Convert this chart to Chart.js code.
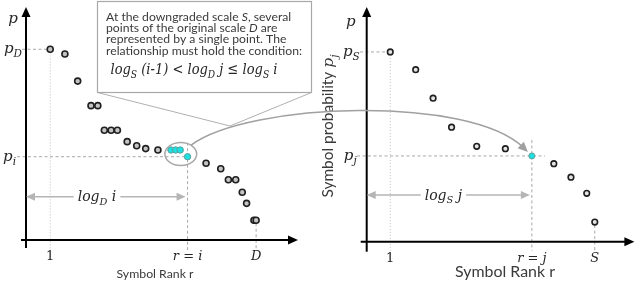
<!DOCTYPE html>
<html><head><meta charset="utf-8">
<script src="https://cdn.jsdelivr.net/npm/chart.js@4.4.1/dist/chart.umd.min.js"></script>
<style>
html,body{margin:0;padding:0;background:#fff;overflow:hidden}
#wrap{position:relative;width:640px;height:284px;background:#fff}
#wrap canvas{position:absolute;top:0}
</style></head><body>
<div id="wrap">
<canvas id="cLeft" width="320" height="284" style="left:0px;width:320px;height:284px"></canvas>
<canvas id="cRight" width="320" height="284" style="left:320px;width:320px;height:284px"></canvas>
<canvas id="cOver" width="640" height="284" style="left:0px;width:640px;height:284px;pointer-events:none"></canvas>
</div>
<script>
// ---------- data (axis units 0..100) ----------
const leftRanks  = [8.9,14.3,19.0,23.9,26.4,28.8,31.3,33.6,37.2,40.7,44.0,48.5,66.2,71.6,74.4,77.1,79.5,81.1,83.8,84.6];
const leftProbs  = [82.2,80.2,68.5,57.9,57.9,47.3,47.3,47.3,42.4,40.6,39.4,38.8,33.1,30.7,26.0,26.0,20.6,15.8,8.5,8.5];
const groupRanks = [53.3,55.0,56.7,59.4];
const groupProbs = [38.8,38.8,38.8,35.9];
const rightRanks = [8.8,18.3,24.8,31.7,41.1,51.8,69.9,76.3,82.2,85.2];
const rightProbs = [81.2,73.6,61.4,49.0,40.8,39.8,33.4,27.6,20.7,8.4];
const mappedRanks = [61.7];
const mappedProbs = [36.7];
const leftTickValues  = [8.9, 59.4, 84.6];
const leftTickLabels  = ['1', 'r = i', 'D'];
const rightTickValues = [8.8, 61.7, 85.2];
const rightTickLabels = ['1', 'r = j', 'S'];

// ---------- helpers ----------
const SERIF = '"DejaVu Serif", "Liberation Serif", serif';
const SANS = 'Lato, "Open Sans", sans-serif';
const INK = '#262626';
const TXT = '#3a3a3a';
const GUIDE = '#a8a8a8';
const DASH = [3, 2.5];
const DOT = [1.2, 1.8];

function runFont(r, size){
  const sz = r.sub ? size*0.7 : size;
  return (r.it ? 'italic ' : '') + sz.toFixed(2) + 'px ' + (r.sans ? SANS : SERIF);
}
function measureRuns(ctx, runs, size){
  let w = 0;
  for (const r of runs){ ctx.font = runFont(r, size); w += ctx.measureText(r.t).width; }
  return w;
}
function drawRuns(ctx, runs, x, base, size, align, color, hs){
  hs = hs || 1;
  const w = measureRuns(ctx, runs, size) * hs;
  let cx = align === 'center' ? x - w/2 : (align === 'right' ? x - w : x);
  ctx.save();
  ctx.translate(cx, base); ctx.scale(hs, 1);
  ctx.textBaseline = 'alphabetic'; ctx.textAlign = 'left'; ctx.fillStyle = color;
  let px = 0;
  for (const r of runs){
    ctx.font = runFont(r, size);
    ctx.fillText(r.t, px, r.sub ? size*0.27 : 0);
    px += ctx.measureText(r.t).width;
  }
  ctx.restore();
  return w;
}
function fitSize(ctx, runs, base, target){ return base * target / measureRuns(ctx, runs, base); }
function line(ctx, x1, y1, x2, y2, dash, color, lw){
  ctx.save(); ctx.setLineDash(dash || []); ctx.strokeStyle = color; ctx.lineWidth = lw || 1;
  ctx.beginPath(); ctx.moveTo(x1, y1); ctx.lineTo(x2, y2); ctx.stroke(); ctx.restore();
}
function arrowHead(ctx, x, y, dx, dy, len, half, color){
  ctx.save(); ctx.fillStyle = color; ctx.beginPath();
  ctx.moveTo(x, y);
  ctx.lineTo(x - dx*len - dy*half, y - dy*len + dx*half);
  ctx.lineTo(x - dx*len + dy*half, y - dy*len - dx*half);
  ctx.closePath(); ctx.fill(); ctx.restore();
}
function logArrow(ctx, x1, x2, yy, runs, frac, size){
  const w = measureRuns(ctx, runs, size);
  const tc = x1 + (x2 - x1)*frac;
  const col = '#b5b5b5';
  line(ctx, x1 + 6, yy, tc - w/2 - 4, yy, [], col, 1.5);
  line(ctx, tc + w/2 + 4, yy, x2 - 6, yy, [], col, 1.5);
  arrowHead(ctx, x1, yy, -1, 0, 9, 4, col);
  arrowHead(ctx, x2, yy, 1, 0, 9, 4, col);
  drawRuns(ctx, runs, tc, yy + 4.5, size, 'center', INK);
}
const M = t => ({t, it:true});
const MS = t => ({t, it:true, sub:true});
const S = t => ({t, sans:true});
const SI = t => ({t, sans:true, it:true});

function makeChart(id, cfg){
  const guidePlugin = {
    id: 'guides',
    beforeDatasetsDraw(chart){
      const {ctx, chartArea:a, scales:{x, y}} = chart;
      cfg.drawGuides(ctx, x, y, a);
      line(ctx, a.left, a.bottom + cfg.yBelow, a.left, a.top + 8, [], '#000', 2);
      arrowHead(ctx, a.left, a.top - 1, 0, -1, 10, 4.5, '#000');
      line(ctx, a.left - cfg.xBefore, a.bottom, a.right - 8, a.bottom, [], '#000', 2);
      arrowHead(ctx, a.right, a.bottom, 1, 0, 10, 4.5, '#000');
    },
    afterDraw(chart){
      cfg.drawLabels(chart.ctx, chart.scales.x, chart.scales.y, chart.chartArea);
    }
  };
  return new Chart(document.getElementById(id), {
    type: 'scatter',
    data: { datasets: cfg.datasets },
    options: {
      responsive: false, animation: false, events: [],
      layout: { padding: cfg.padding },
      plugins: { legend: { display: false }, tooltip: { enabled: false } },
      scales: {
        x: {
          type: 'linear', min: 0, max: 100, display: true,
          grid: { display: false, drawTicks: false }, border: { display: false },
          afterBuildTicks: s => { s.ticks = cfg.tickValues.map(v => ({ value: v })); },
          ticks: {
            autoSkip: false, maxRotation: 0, padding: 9, color: INK,
            callback: (v, i) => cfg.tickLabels[i],
            font: c => ({ family: SERIF, size: 13, style: c.index === 0 ? 'normal' : 'italic', lineHeight: 1.2 })
          }
        },
        y: { type: 'linear', min: 0, max: 100, display: false }
      }
    },
    plugins: [guidePlugin]
  });
}

// ---------- left chart: original scale D ----------
const leftChart = makeChart('cLeft', {
  padding: { left: 26, right: 22, top: 8, bottom: 10.4 },
  yBelow: 8, xBefore: 5,
  tickValues: leftTickValues, tickLabels: leftTickLabels,
  datasets: [
    { label: 'Merged points', data: groupRanks.map((r, i) => ({ x: r, y: groupProbs[i] })),
      pointRadius: 3.2, pointBorderWidth: 1, pointBackgroundColor: '#1fe0e0', pointBorderColor: '#5f9e9e' },
    { label: 'Original scale D', data: leftRanks.map((r, i) => ({ x: r, y: leftProbs[i] })),
      pointRadius: 3, pointBorderWidth: 1.6, pointBackgroundColor: '#c4c4c4', pointBorderColor: '#1f1f1f' }
  ],
  drawGuides(ctx, x, y, a){
    const x0 = x.getPixelForValue(leftRanks[0]), y0 = y.getPixelForValue(leftProbs[0]);
    line(ctx, a.left - 4, y0, x0 - 3, y0, DASH, GUIDE, 1);
    line(ctx, x0, y0 + 3, x0, a.bottom + 10, DOT, '#c8c8c8', 1);
    const xi = x.getPixelForValue(groupRanks[3]), yi = y.getPixelForValue(groupProbs[3]);
    line(ctx, a.left - 9, yi, xi, yi, DASH, GUIDE, 1);
    line(ctx, xi, yi - 14, xi, a.bottom + 10, DASH, GUIDE, 1);
    const n = leftRanks.length - 1;
    const xl = x.getPixelForValue(leftRanks[n]), yl = y.getPixelForValue(leftProbs[n]);
    line(ctx, xl, yl + 3, xl, a.bottom + 10, DASH, GUIDE, 1);
  },
  drawLabels(ctx, x, y, a){
    drawRuns(ctx, [M('p')], 13, a.top + 15, 15, 'center', INK);
    drawRuns(ctx, [M('p'), MS('D')], a.left - 4, y.getPixelForValue(leftProbs[0]) + 4, 15, 'right', INK);
    drawRuns(ctx, [M('p'), MS('i')], a.left - 10, y.getPixelForValue(groupProbs[3]) + 4, 15, 'right', INK);
    const xi = x.getPixelForValue(groupRanks[3]);
    logArrow(ctx, a.left, xi - 2, a.bottom - 43.3, [M('log'), MS('D'), M(' i')], 0.445, 14);
    const runs = [S('Symbol Rank r')];
    drawRuns(ctx, runs, 155, 278, fitSize(ctx, runs, 11, 77), 'center', TXT);
  }
});

// ---------- right chart: downgraded scale S ----------
const rightChart = makeChart('cRight', {
  padding: { left: 46.7, right: 5, top: 8, bottom: 8.7 },
  yBelow: 10, xBefore: 6,
  tickValues: rightTickValues, tickLabels: rightTickLabels,
  datasets: [
    { label: 'Mapped point', data: mappedRanks.map((r, i) => ({ x: r, y: mappedProbs[i] })),
      pointRadius: 3, pointBorderWidth: 1, pointBackgroundColor: '#1fe0e0', pointBorderColor: '#5f9e9e' },
    { label: 'Downgraded scale S', data: rightRanks.map((r, i) => ({ x: r, y: rightProbs[i] })),
      pointRadius: 2.8, pointBorderWidth: 1.6, pointBackgroundColor: '#e4e4e4', pointBorderColor: '#1f1f1f' }
  ],
  drawGuides(ctx, x, y, a){
    const x0 = x.getPixelForValue(rightRanks[0]), y0 = y.getPixelForValue(rightProbs[0]);
    line(ctx, a.left - 6.7, y0, x0 - 3, y0, DASH, GUIDE, 1);
    line(ctx, x0, y0 + 3, x0, a.bottom + 9, DOT, '#c8c8c8', 1);
    const xm = x.getPixelForValue(mappedRanks[0]), ym = y.getPixelForValue(mappedProbs[0]);
    line(ctx, a.left - 9.7, ym, xm + 13, ym, DASH, GUIDE, 1);
    line(ctx, xm, ym - 16, xm, a.bottom + 9, DASH, GUIDE, 1);
    const n = rightRanks.length - 1;
    const xl = x.getPixelForValue(rightRanks[n]), yl = y.getPixelForValue(rightProbs[n]);
    line(ctx, xl, yl + 3, xl, a.bottom + 9, DASH, GUIDE, 1);
  },
  drawLabels(ctx, x, y, a){
    drawRuns(ctx, [M('p')], 30.7, a.top + 18, 15, 'center', INK);
    drawRuns(ctx, [M('p'), MS('S')], a.left - 7, y.getPixelForValue(rightProbs[0]) + 4, 15, 'right', INK);
    drawRuns(ctx, [M('p'), MS('j')], a.left - 10, y.getPixelForValue(mappedProbs[0]) + 4, 15, 'right', INK);
    const xm = x.getPixelForValue(mappedRanks[0]);
    logArrow(ctx, a.left, xm - 2, a.bottom - 46.7, [M('log'), MS('S'), M(' j')], 0.47, 14);
    const runs = [S('Symbol Rank r')];
    drawRuns(ctx, runs, 185, 276.5, fitSize(ctx, runs, 12, 100), 'center', TXT);
    const tRuns = [S('Symbol probability '), M('p'), MS('j')];
    const ts = fitSize(ctx, tRuns, 12, 143);
    ctx.save(); ctx.translate(8, 126); ctx.rotate(-Math.PI/2);
    drawRuns(ctx, tRuns, 0, ts*0.35, ts, 'center', TXT);
    ctx.restore();
  }
});

// ---------- overlay: callout, grouping ellipse and mapping arrow ----------
(function(){
  const ctx = document.getElementById('cOver').getContext('2d');
  const RX = 320;
  const lx = leftChart.scales.x, ly = leftChart.scales.y;
  const rx = rightChart.scales.x, ry = rightChart.scales.y;
  const gx = groupRanks.map(v => lx.getPixelForValue(v));
  const gy = groupProbs.map(v => ly.getPixelForValue(v));
  const minX = Math.min(...gx), maxX = Math.max(...gx), minY = Math.min(...gy), maxY = Math.max(...gy);
  const ecx = (minX + maxX)/2 + 1.5, ecy = (minY + maxY)/2 + 0.6;
  const erx = (maxX - minX)/2 + 7.6, ery = (maxY - minY)/2 + 8.2;
  ctx.save();
  ctx.strokeStyle = '#a8a8a8'; ctx.lineWidth = 1.5;
  ctx.beginPath(); ctx.ellipse(ecx, ecy, erx, ery, 0, 0, Math.PI*2); ctx.stroke();
  ctx.restore();

  // callout box
  const bx1 = 97, by1 = 1, bx2 = 311, by2 = 92, tipX = 230, tipY = 126;
  ctx.save();
  ctx.fillStyle = '#fff'; ctx.strokeStyle = '#a8a8a8'; ctx.lineWidth = 1.2;
  ctx.fillRect(bx1, by1, bx2 - bx1, by2 - by1);
  ctx.strokeRect(bx1 + 0.5, by1 + 0.5, bx2 - bx1, by2 - by1);
  ctx.restore();
  line(ctx, bx1 + 0.5, by2 + 0.5, tipX, tipY, [], '#b0b0b0', 1);
  line(ctx, bx2 + 0.5, by2 + 0.5, tipX, tipY, [], '#b0b0b0', 1);

  const lines = [
    [S('At the downgraded scale '), SI('S'), S(', several')],
    [S('points of the original scale '), SI('D'), S(' are')],
    [S('represented by a single point. The')],
    [S('relationship must hold the condition:')]
  ];
  const fs = 12;
  const hs = 196 / measureRuns(ctx, lines[3], fs);
  lines.forEach((ln, k) => drawRuns(ctx, ln, 106, 20.5 + k*11.4, fs, 'left', TXT, hs));
  const formula = [M('log'), MS('S'), M(' (i-1) < '), M('log'), MS('D'), M(' j ≤ '), M('log'), MS('S'), M(' i')];
  drawRuns(ctx, formula, 194, 73.5, 15.5, 'center', INK, 167 / measureRuns(ctx, formula, 15.5));

  // mapping arrow from the ellipse to the mapped point
  const a0 = 50*Math.PI/180;
  const sx = ecx + erx*Math.cos(a0), sy = ecy - ery*Math.sin(a0);
  const mx = RX + rx.getPixelForValue(mappedRanks[0]), my = ry.getPixelForValue(mappedProbs[0]);
  const tx = mx - 4, ty = my - 4;
  const c1x = sx + 58, c1y = sy - 43, c2x = tx - 58, c2y = ty - 57;
  const dx = tx - c2x, dy = ty - c2y, dl = Math.hypot(dx, dy);
  const ux = dx/dl, uy = dy/dl;
  ctx.save();
  ctx.strokeStyle = '#a0a0a0'; ctx.lineWidth = 1.5;
  ctx.beginPath(); ctx.moveTo(sx, sy);
  ctx.bezierCurveTo(c1x, c1y, c2x, c2y, tx - ux*6, ty - uy*6);
  ctx.stroke(); ctx.restore();
  arrowHead(ctx, tx, ty, ux, uy, 10, 4.5, '#a0a0a0');
})();
</script>
</body></html>
